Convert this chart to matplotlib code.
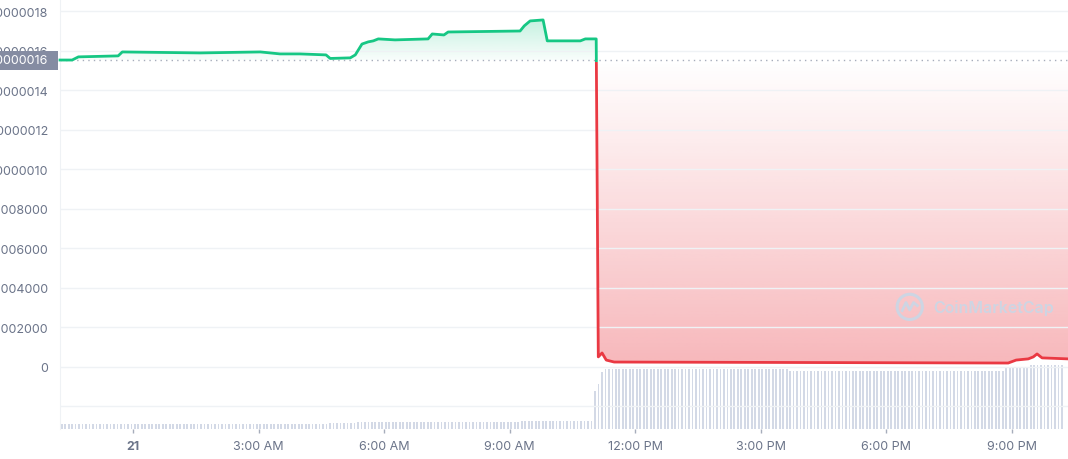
import numpy as np
import matplotlib
matplotlib.use("Agg")
import matplotlib.pyplot as plt
import matplotlib.transforms as mtransforms
from matplotlib.patches import Rectangle
from matplotlib.path import Path

plt.rcParams['font.family'] = ['Inter', 'DejaVu Sans']

# price line, hours relative to midnight of the 21st, price in units of 1e-10
price_hours = [-1.75, -1.46, -1.31, -0.36, -0.26, 1.60, 3.04, 3.51, 3.99, 4.61,
               4.71, 5.19, 5.31, 5.47, 5.62, 5.74, 5.86, 6.26, 7.05, 7.15,
               7.43, 7.53, 9.25, 9.35, 9.49, 9.80, 9.90, 10.69, 10.81, 11.07,
               11.12, 11.21, 11.31, 11.50, 20.92, 21.11, 21.40, 21.52, 21.61, 21.73,
               22.35]
price_e10 = [15.54, 15.54, 15.70, 15.75, 15.95, 15.90, 15.95, 15.85, 15.85, 15.80,
             15.62, 15.65, 15.80, 16.35, 16.46, 16.51, 16.61, 16.56, 16.61, 16.86,
             16.81, 16.96, 17.01, 17.27, 17.52, 17.57, 16.51, 16.51, 16.61, 16.61,
             0.51, 0.71, 0.35, 0.25, 0.20, 0.35, 0.41, 0.51, 0.66, 0.46,
             0.41]
open_price_e10 = 15.54

# 5-minute volume bars, run-length encoded (bar count, relative height)
vol_counts = [77, 8, 47, 21, 1, 1, 1, 53, 62, 7, 10]
vol_levels = [5.5, 6, 7, 8, 38, 45, 57, 60, 58.5, 61, 64]

tick_hours = [0, 3, 6, 9, 12, 15, 18, 21]
tick_names = ['21', '3:00 AM', '6:00 AM', '9:00 AM', '12:00 PM', '3:00 PM', '6:00 PM', '9:00 PM']

y_ticks_e10 = [-2, 0, 2, 4, 6, 8, 10, 12, 14, 16, 18]
y_tick_names = ['', '0', '0.0000000002000', '0.0000000004000', '0.0000000006000',
                '0.0000000008000', '0.0000000010', '0.0000000012', '0.0000000014',
                '0.0000000016', '0.0000000018']

GREEN = '#16c784'
RED = '#ea3943'
TEXT = '#6b7489'
GRID = '#eff2f5'

h = np.array(price_hours)
p = np.array(price_e10) * 1e-10
ref = open_price_e10 * 1e-10
x0, x1 = -1.75, 22.35
y0, y1 = -3.14e-10, 18.63e-10

fig = plt.figure(figsize=(10.68, 4.60), dpi=100)
ax = fig.add_axes([60 / 1068, 30 / 460, 1008 / 1068, 430 / 460])
ax_vol = ax.twinx()
ax_vol.set_zorder(0)
ax.set_zorder(1)
ax.patch.set_visible(False)

# volume
vol = np.repeat(vol_levels, vol_counts)
vol_x = x0 + 0.04 + np.arange(len(vol)) / 12
ax_vol.bar(vol_x, vol, width=1 / 12 * 0.5, color='#d3d9e6', linewidth=0)
ax_vol.set_ylim(0, 430)
ax_vol.set_yticks([])
for s in ax_vol.spines.values():
    s.set_visible(False)


def gradient(ax, coll, color, lo, hi, a_lo, a_hi):
    rgb = matplotlib.colors.to_rgb(color)
    n = 256
    img = np.zeros((n, 2, 4))
    img[..., :3] = rgb
    img[..., 3] = np.linspace(a_lo, a_hi, n)[:, None]
    im = ax.imshow(img, extent=[x0, x1, lo, hi], origin='lower', aspect='auto', zorder=1)
    path = Path.make_compound_path(*coll.get_paths())
    im.set_clip_path(path, ax.transData)


up = ax.fill_between(h, p, ref, where=p >= ref, interpolate=True, color='none')
down = ax.fill_between(h, p, ref, where=p <= ref, interpolate=True, color='none')
gradient(ax, up, GREEN, ref, p.max(), 0.03, 0.25)
gradient(ax, down, RED, p.min(), ref, 0.36, 0.0)

# line, green above the open price and red below it
cut = ref - 0.08e-10
clip_up = Rectangle((x0 - 1, cut), 30, 1e-8, transform=ax.transData)
clip_dn = Rectangle((x0 - 1, cut - 1e-8), 30, 1e-8, transform=ax.transData)
l1, = ax.plot(h, p, color=GREEN, lw=2, zorder=3, solid_joinstyle='round')
l2, = ax.plot(h, p, color=RED, lw=2, zorder=3, solid_joinstyle='round')
l1.set_clip_path(clip_up)
l2.set_clip_path(clip_dn)

ax.axhline(ref, color='#a6adbb', lw=1, ls=(0, (1, 3)), zorder=2)

ax.set_xlim(x0, x1)
ax.set_ylim(y0, y1)
ax_vol.set_xlim(x0, x1)
ax.set_yticks(np.array(y_ticks_e10) * 1e-10)
ax.set_yticklabels(y_tick_names)
ax.set_xticks(tick_hours)
ax.set_xticklabels(tick_names)
ax.tick_params(axis='y', length=0, pad=8.6, labelsize=9, labelcolor=TEXT)
ax.tick_params(axis='x', length=3, width=1, color='#a6adbb', pad=5, labelsize=9, labelcolor=TEXT)
ax.get_xticklabels()[0].set_fontweight('bold')
ax.grid(axis='y', color=GRID, lw=1)
for name, s in ax.spines.items():
    s.set_visible(name == 'left')
ax.spines['left'].set_color(GRID)

# current price tag
tr = mtransforms.blended_transform_factory(fig.transFigure, ax.transData)
fig.patches.append(Rectangle((0, ref - 0.48e-10), 58 / 1068, 0.96e-10, transform=tr,
                             facecolor='#858ca2', edgecolor='none', zorder=5))
fig.text(48 / 1068, ref, '0.0000000016', transform=tr, ha='right', va='center',
         color='white', fontsize=9, zorder=6)

# watermark
wm = '#cdd5e3'
cx, cy = 0.843, 0.284
ax.scatter([cx], [cy], s=330, marker='o', facecolor='none', edgecolor=wm,
           linewidths=2.2, transform=ax.transAxes, zorder=4)
rx, ry = 0.0125, 0.029
ax.plot([cx - 0.6 * rx, cx - 0.3 * rx, cx, cx + 0.3 * rx, cx + 0.6 * rx],
        [cy - 0.3 * ry, cy + 0.35 * ry, cy - 0.25 * ry, cy + 0.35 * ry, cy + 0.1 * ry],
        color=wm, lw=2, transform=ax.transAxes, zorder=4, solid_joinstyle='round')
ax.text(0.866, cy, 'CoinMarketCap', transform=ax.transAxes, ha='left', va='center',
        fontsize=11.5, fontweight='semibold', color=wm, zorder=4)

fig.savefig('out.png', dpi=100)
